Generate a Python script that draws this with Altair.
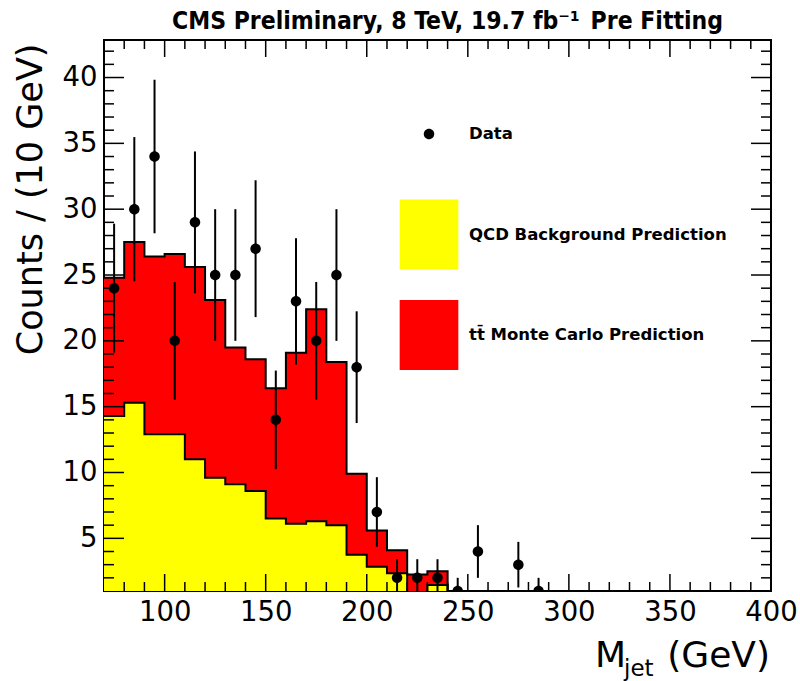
import altair as alt
import pandas as pd
import numpy as np

# ---- data -------------------------------------------------------------
# 10 GeV bins of jet mass
data_bin_lo = [70, 80, 90, 100, 110, 120, 130, 140, 150, 160, 170, 180, 190,
               200, 210, 220, 230, 240, 250, 260, 270, 280, 290, 300, 310,
               320, 330, 340, 350, 360, 370, 380, 390]
data_counts = [24, 30, 34, 20, 29, 25, 25, 27, 14, 23, 20, 25, 18,
               7, 2, 2, 2, 1, 4, 0, 3, 1, 0, 0, 0,
               0, 0, 0, 0, 0, 0, 0, 0]

# predictions (non-empty bins only, 70-240 GeV)
hist_bin_lo = [70, 80, 90, 100, 110, 120, 130, 140, 150, 160, 170, 180, 190,
               200, 210, 220, 230]
qcd_pred = [14.3, 15.3, 12.9, 12.9, 11.0, 9.6, 9.1, 8.6, 6.5, 6.1, 6.3, 6.0,
            3.75, 2.85, 2.35, 0.7, 1.45]
ttbar_pred = [10.5, 12.2, 13.5, 13.7, 14.6, 13.5, 10.4, 10.0, 9.9, 13.0, 16.1,
              12.4, 6.15, 2.75, 1.75, 1.55, 1.05]

x_tick_labels = [100, 150, 200, 250, 300, 350, 400]
y_tick_labels = [5, 10, 15, 20, 25, 30, 35, 40]
x_major_ticks = [100, 150, 200, 250, 300, 350]
x_minor_ticks = [80, 90, 110, 120, 130, 140, 160, 170, 180, 190, 210, 220,
                 230, 240, 260, 270, 280, 290, 310, 320, 330, 340, 360, 370,
                 380, 390]
y_major_ticks = [5, 10, 15, 20, 25, 30, 35, 40]
y_minor_ticks = [2, 3, 4, 6, 7, 8, 9, 11, 12, 13, 14, 16, 17, 18, 19, 21, 22,
                 23, 24, 26, 27, 28, 29, 31, 32, 33, 34, 36, 37, 38, 39, 41, 42]

BIN_W = 10
DATA = "Data"
QCD = "QCD Background Prediction"
TT = "tt\u0304 Monte Carlo Prediction"

# ---- layout / style ---------------------------------------------------
W, H = 667, 551
FONT = "DejaVu Sans"
x_scale = alt.Scale(domain=[70, 400], nice=False, zero=False)
y_scale = alt.Scale(domain=[1, 42.85], nice=False, zero=False)
color_scale = alt.Scale(domain=[DATA, QCD, TT], range=["black", "#ffff00", "#ff0000"])

# symbol paths: small dot for data (with an invisible box-sized extent so
# all legend rows share the same height), tall box for the predictions
SYM_SIZE = 4900
CIRCLE = ("M-0.838,-1M0.838,1"
          "M0,-0.15A0.15,0.15 0 1,1 0,0.15A0.15,0.15 0 1,1 0,-0.15Z")
BOX = "M-0.838,-1H0.838V1H-0.838Z"
shape_scale = alt.Scale(domain=[DATA, QCD, TT], range=[CIRCLE, BOX, BOX])

legend = alt.Legend(
    title=None, orient="none", legendX=289, legendY=58, padding=0,
    rowPadding=24.5, symbolSize=SYM_SIZE, symbolStrokeWidth=1.5,
    symbolStrokeColor="black", symbolOpacity=1,
    labelOffset=4, labelFont=FONT, labelFontSize=16.5, labelFontWeight="bold",
    labelColor="black", labelLimit=0,
)

x_axis = alt.Axis(values=x_tick_labels, title=None, grid=False, ticks=False,
                  domain=False, labelFont=FONT, labelFontSize=27.5,
                  labelColor="black", labelPadding=7, labelFlush=False,
                  labelOverlap=False)
y_axis = alt.Axis(values=y_tick_labels, title="Counts / (10 GeV)", grid=False,
                  ticks=False, domain=False, labelFont=FONT, labelFontSize=27.5,
                  labelColor="black", labelPadding=7, labelFlush=False,
                  labelOverlap=False, titleFont=FONT, titleFontSize=35,
                  titleFontWeight="normal", titleColor="black", titleAngle=270,
                  titleAlign="right", titleBaseline="alphabetic",
                  titleX=-63, titleY=3)


def X(field):
    return alt.X(field, type="quantitative", scale=x_scale, axis=x_axis)


def Y(field):
    return alt.Y(field, type="quantitative", scale=y_scale, axis=y_axis)


# ---- frames -----------------------------------------------------------
edges = hist_bin_lo + [hist_bin_lo[-1] + BIN_W]
stack_total = [q + t for q, t in zip(qcd_pred, ttbar_pred)]


def fill_frame(vals, label):
    return pd.DataFrame({"x": edges, "y": vals + [vals[-1]], "series": label})


def outline_frame(vals):
    return pd.DataFrame({"x": edges, "y": vals + [0]})


counts = np.array(data_counts, dtype=float)
pts = pd.DataFrame({
    "x": np.array(data_bin_lo) + BIN_W / 2,
    "n": counts,
    "lo": counts - np.sqrt(counts),
    "hi": counts + np.sqrt(counts),
    "series": DATA,
})
pts_nonzero = pts[pts["n"] > 0]

# ---- layers -----------------------------------------------------------
tt_fill = alt.Chart(fill_frame(stack_total, TT)).mark_area(
    interpolate="step-after", clip=True, opacity=1
).encode(
    x=X("x"), y=Y("y"), y2=alt.datum(0),
    color=alt.Color("series:N", scale=color_scale, legend=legend),
)

qcd_fill = alt.Chart(fill_frame(qcd_pred, QCD)).mark_area(
    interpolate="step-after", clip=True, opacity=1
).encode(
    x=X("x"), y=Y("y"), y2=alt.datum(0),
    color=alt.Color("series:N", scale=color_scale, legend=legend),
)

tt_line = alt.Chart(outline_frame(stack_total)).mark_line(
    interpolate="step-after", clip=True, color="black", strokeWidth=2
).encode(x=X("x"), y=Y("y"))

qcd_line = alt.Chart(outline_frame(qcd_pred)).mark_line(
    interpolate="step-after", clip=True, color="black", strokeWidth=2
).encode(x=X("x"), y=Y("y"))


def tick_layer(vals, orient, length):
    df = pd.DataFrame({"v": vals})
    base = alt.Chart(df).mark_rule(color="black", strokeWidth=1.5)
    if orient == "bottom":
        return base.encode(x=X("v"), y=alt.value(H), y2=alt.value(H - length))
    if orient == "top":
        return base.encode(x=X("v"), y=alt.value(0), y2=alt.value(length))
    if orient == "left":
        return base.encode(y=Y("v"), x=alt.value(0), x2=alt.value(length))
    return base.encode(y=Y("v"), x=alt.value(W), x2=alt.value(W - length))


ticks = [
    tick_layer(x_major_ticks, "bottom", 17), tick_layer(x_minor_ticks, "bottom", 9),
    tick_layer(x_major_ticks, "top", 17), tick_layer(x_minor_ticks, "top", 9),
    tick_layer(y_major_ticks, "left", 20), tick_layer(y_minor_ticks, "left", 10),
    tick_layer(y_major_ticks, "right", 20), tick_layer(y_minor_ticks, "right", 10),
]

err_bars = alt.Chart(pts_nonzero).mark_rule(color="black", strokeWidth=2, clip=True).encode(
    x=X("x"), y=Y("lo"), y2="hi:Q",
)

points = alt.Chart(pts).mark_point(
    size=SYM_SIZE, filled=True, opacity=1, clip=True, strokeWidth=0
).encode(
    x=X("x"), y=Y("n"),
    color=alt.Color("series:N", scale=color_scale, legend=legend),
    shape=alt.Shape("series:N", scale=shape_scale, legend=legend),
)

# x-axis title with subscript
title_df = pd.DataFrame({"t": [""]})
x_title_m = alt.Chart(title_df).mark_text(
    text="M", font=FONT, fontSize=36, align="left", baseline="alphabetic", color="black"
).encode(x=alt.value(491), y=alt.value(627))
x_title_sub = alt.Chart(title_df).mark_text(
    text="jet", font=FONT, fontSize=23, align="left", baseline="alphabetic", color="black"
).encode(x=alt.value(520), y=alt.value(636))
x_title_unit = alt.Chart(title_df).mark_text(
    text="(GeV)", font=FONT, fontSize=36, align="right", baseline="alphabetic", color="black"
).encode(x=alt.value(666), y=alt.value(627))

chart = alt.layer(
    tt_fill, qcd_fill, tt_line, qcd_line, *ticks, err_bars, points,
    x_title_m, x_title_sub, x_title_unit,
).properties(
    width=W, height=H,
    title=alt.TitleParams(
        "CMS Preliminary, 8 TeV, 19.7 fb\u207b\u00b9\u2002Pre Fitting",
        font="Liberation Sans Narrow, DejaVu Sans Condensed, Liberation Sans",
        fontSize=24.5, fontWeight="bold", color="black", anchor="middle",
        dx=10, offset=5,
    ),
    autosize=alt.AutoSizeParams(type="none"),
    padding={"left": 104, "top": 40, "right": 29, "bottom": 90},
    background="white",
).configure_view(stroke="black", strokeWidth=2)

chart.save("out.html", embed_options={"renderer": "svg", "actions": False})
